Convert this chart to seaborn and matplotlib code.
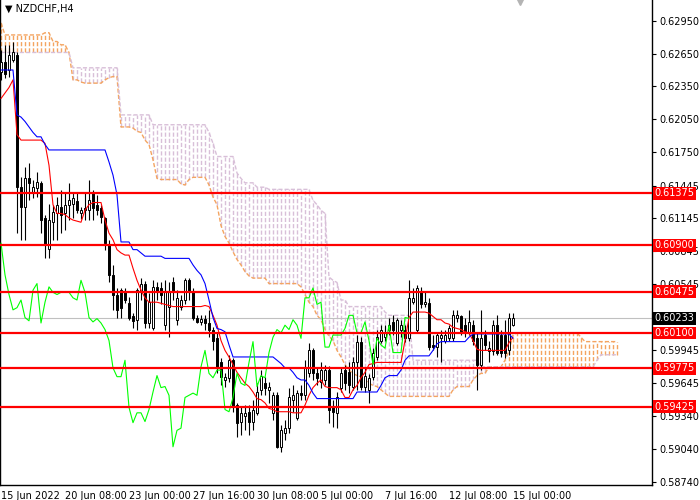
import numpy as np
import seaborn as sns
import matplotlib
matplotlib.use("Agg")
import matplotlib.pyplot as plt
import matplotlib.transforms as mtransforms

symbol = "NZDCHF,H4"
date_labels = ["15 Jun 2022", "20 Jun 08:00", "23 Jun 00:00", "27 Jun 16:00",
               "30 Jun 08:00", "5 Jul 00:00", "7 Jul 16:00", "12 Jul 08:00",
               "15 Jul 00:00"]
price_ticks = [0.62950, 0.62650, 0.62350, 0.62050, 0.61750, 0.61445, 0.61145,
               0.60845, 0.60545, 0.59945, 0.59645, 0.59340, 0.59040, 0.58740]
levels = [0.61375, 0.60900, 0.60475, 0.60100, 0.59775, 0.59425]
last_price = 0.60233

# H4 candles, one per bar
opens = [
    0.6248, 0.6257, 0.6250, 0.6259, 0.6264, 0.6143, 0.6125, 0.6151, 0.6139, 0.6142,
    0.6147, 0.6115, 0.6087, 0.6111, 0.6119, 0.6125, 0.6119, 0.6127, 0.6128, 0.6130,
    0.6119, 0.6124, 0.6122, 0.6138, 0.6127, 0.6124, 0.6115, 0.6090, 0.6063, 0.6045,
    0.6049, 0.6047, 0.6037, 0.6025, 0.6022, 0.6047, 0.6055, 0.6019, 0.6014, 0.6052,
    0.6051, 0.6017, 0.6034, 0.6056, 0.6022, 0.6034, 0.6040, 0.6058, 0.6047, 0.6024,
    0.6020, 0.6023, 0.6019, 0.6013, 0.6005, 0.5983, 0.5967, 0.5969, 0.5985, 0.5944,
    0.5929, 0.5934, 0.5938, 0.5929, 0.5937, 0.5958, 0.5964, 0.5958, 0.5937, 0.5953,
    0.5906, 0.5919, 0.5923, 0.5949, 0.5932, 0.5955, 0.5953, 0.5973, 0.5994, 0.5973,
    0.5965, 0.5967, 0.5976, 0.5942, 0.5937, 0.5960, 0.5976, 0.5974, 0.5961, 0.5983,
    0.6002, 0.5961, 0.5958, 0.5970, 0.5988, 0.6003, 0.6006, 0.6013, 0.6020, 0.6001,
    0.6013, 0.6013, 0.6005, 0.6038, 0.6013, 0.6047, 0.6036, 0.6037, 0.5999, 0.5997,
    0.6005, 0.6003, 0.6005, 0.6005, 0.6024, 0.6025, 0.6017, 0.6011, 0.6017, 0.6005,
    0.5981, 0.6008, 0.5993, 0.5993, 0.6017, 0.6008, 0.6008, 0.5994, 0.6017]
highs = [
    0.6268, 0.6273, 0.6273, 0.6276, 0.6266, 0.6152, 0.6161, 0.6165, 0.6150, 0.6157,
    0.6149, 0.6118, 0.6128, 0.6127, 0.6134, 0.6140, 0.6139, 0.6147, 0.6138, 0.6138,
    0.6125, 0.6138, 0.6150, 0.6140, 0.6136, 0.6127, 0.6116, 0.6095, 0.6072, 0.6051,
    0.6051, 0.6051, 0.6043, 0.6028, 0.6051, 0.6060, 0.6057, 0.6046, 0.6058, 0.6056,
    0.6056, 0.6058, 0.6056, 0.6061, 0.6049, 0.6045, 0.6060, 0.6060, 0.6051, 0.6026,
    0.6026, 0.6026, 0.6031, 0.6015, 0.6010, 0.5987, 0.5973, 0.5990, 0.5987, 0.5946,
    0.5942, 0.5944, 0.5944, 0.5949, 0.5964, 0.5976, 0.5970, 0.5965, 0.5956, 0.5956,
    0.5926, 0.5930, 0.5960, 0.5962, 0.5958, 0.5962, 0.5985, 0.6001, 0.5996, 0.5978,
    0.5983, 0.5981, 0.5980, 0.5949, 0.5956, 0.5978, 0.5981, 0.5983, 0.5988, 0.6008,
    0.6006, 0.5978, 0.5972, 0.5996, 0.6013, 0.6017, 0.6017, 0.6024, 0.6026, 0.6024,
    0.6022, 0.6017, 0.6058, 0.6051, 0.6054, 0.6052, 0.6047, 0.6042, 0.6008, 0.6010,
    0.6013, 0.6013, 0.6017, 0.6031, 0.6031, 0.6026, 0.6024, 0.6031, 0.6022, 0.6011,
    0.6031, 0.6013, 0.6003, 0.6022, 0.6026, 0.6013, 0.6022, 0.6028, 0.6028]
lows = [
    0.6241, 0.6243, 0.6244, 0.6257, 0.6101, 0.6095, 0.6095, 0.6131, 0.6133, 0.6134,
    0.6101, 0.6078, 0.6078, 0.6095, 0.6095, 0.6101, 0.6104, 0.6113, 0.6115, 0.6119,
    0.6114, 0.6113, 0.6113, 0.6113, 0.6118, 0.6110, 0.6086, 0.6056, 0.6031, 0.6024,
    0.6024, 0.6037, 0.6022, 0.6014, 0.6013, 0.6040, 0.6014, 0.6014, 0.6013, 0.6040,
    0.6036, 0.6013, 0.6006, 0.6040, 0.6017, 0.6031, 0.6036, 0.6040, 0.6022, 0.6019,
    0.6017, 0.6013, 0.6006, 0.5994, 0.5973, 0.5962, 0.5961, 0.5965, 0.5938, 0.5915,
    0.5917, 0.5921, 0.5917, 0.5921, 0.5935, 0.5953, 0.5953, 0.5946, 0.5930, 0.5905,
    0.5901, 0.5912, 0.5919, 0.5938, 0.5930, 0.5949, 0.5949, 0.5970, 0.5967, 0.5962,
    0.5960, 0.5962, 0.5928, 0.5924, 0.5923, 0.5956, 0.5958, 0.5955, 0.5958, 0.5958,
    0.5958, 0.5956, 0.5946, 0.5967, 0.5985, 0.6001, 0.6003, 0.6008, 0.6008, 0.5999,
    0.6006, 0.6002, 0.6003, 0.6036, 0.6010, 0.6033, 0.6034, 0.5994, 0.5994, 0.5988,
    0.5983, 0.6001, 0.6003, 0.6003, 0.6020, 0.6008, 0.6006, 0.6008, 0.5999, 0.5958,
    0.5976, 0.5994, 0.5983, 0.5990, 0.5990, 0.5988, 0.5987, 0.5990, 0.6016]
closes = [
    0.6257, 0.6246, 0.6264, 0.6266, 0.6143, 0.6125, 0.6151, 0.6147, 0.6143, 0.6148,
    0.6113, 0.6090, 0.6113, 0.6120, 0.6127, 0.6118, 0.6127, 0.6131, 0.6133, 0.6122,
    0.6122, 0.6122, 0.6131, 0.6124, 0.6122, 0.6116, 0.6092, 0.6063, 0.6045, 0.6031,
    0.6033, 0.6040, 0.6024, 0.6021, 0.6049, 0.6055, 0.6019, 0.6038, 0.6052, 0.6047,
    0.6045, 0.6047, 0.6047, 0.6047, 0.6042, 0.6040, 0.6058, 0.6047, 0.6024, 0.6020,
    0.6023, 0.6019, 0.6013, 0.6003, 0.5978, 0.5970, 0.5970, 0.5985, 0.5942, 0.5928,
    0.5937, 0.5937, 0.5929, 0.5940, 0.5956, 0.5971, 0.5960, 0.5961, 0.5953, 0.5906,
    0.5921, 0.5923, 0.5951, 0.5953, 0.5955, 0.5953, 0.5979, 0.5994, 0.5973, 0.5969,
    0.5976, 0.5976, 0.5940, 0.5938, 0.5951, 0.5973, 0.5964, 0.5962, 0.5983, 0.6002,
    0.5961, 0.5971, 0.5969, 0.5992, 0.6006, 0.6013, 0.6010, 0.6017, 0.6013, 0.6022,
    0.6017, 0.6005, 0.6042, 0.6042, 0.6051, 0.6036, 0.6038, 0.5997, 0.5997, 0.6008,
    0.6008, 0.6008, 0.6014, 0.6026, 0.6026, 0.6010, 0.6010, 0.6020, 0.6003, 0.5981,
    0.6005, 0.5999, 0.5996, 0.6017, 0.5992, 0.5992, 0.5992, 0.6024, 0.60233]

# Ichimoku lines
tenkan = ([0.6224, 0.6229, 0.6234, 0.6241, 0.6191] + [0.6186] * 6 +
          [0.6183, 0.6163, 0.6127, 0.6119, 0.6119, 0.6118, 0.6115, 0.6113,
           0.6112, 0.6111, 0.6122, 0.6127] + [0.6129] * 3 +
          [0.6113, 0.6101, 0.6095, 0.6086, 0.6083] + [0.6081] * 2 +
          [0.6069, 0.6058, 0.6049, 0.6042] + [0.6038] * 3 +
          [0.6037, 0.6036, 0.6035, 0.6034] + [0.6034] * 7 +
          [0.6035, 0.6034, 0.6026, 0.6017, 0.6003, 0.5994, 0.5988, 0.5981,
           0.5974, 0.5969, 0.5964, 0.5961, 0.5956, 0.5950, 0.5949, 0.5946,
           0.5941, 0.5940] + [0.5938] * 4 + [0.5937] * 3 +
          [0.5944, 0.5953, 0.5960, 0.5964, 0.5967, 0.5961] + [0.5960] * 3 +
          [0.5958] + [0.5951] * 2 +
          [0.5958, 0.5962, 0.5969, 0.5974, 0.5981, 0.5982] + [0.5983] * 7 +
          [0.6003, 0.6024] + [0.6029] * 4 + [0.6028, 0.6025] + [0.6022] * 2 +
          [0.6019, 0.6018, 0.6015, 0.6014, 0.6013, 0.6011, 0.6010, 0.6003,
           0.5995] + [0.5994] * 7 + [0.6001, 0.6006])
kijun = ([0.6250] * 4 + [0.6209, 0.6207, 0.6203, 0.6198, 0.6193] +
         [0.6189] * 2 + [0.6182] + [0.6177] * 15 + [0.6166, 0.6154, 0.6136] +
         [0.6093] * 3 + [0.6086] * 2 + [0.6083] + [0.6080] * 5 +
         [0.6078] * 7 +
         [0.6072, 0.6067, 0.6063, 0.6055, 0.6040, 0.6024, 0.6014, 0.6013,
          0.6011, 0.5999] + [0.5988] * 11 + [0.5985, 0.5982] +
         [0.5978] * 2 + [0.5974, 0.5969] + [0.5967] * 2 + [0.5962, 0.5955] +
         [0.5950] * 10 + [0.5956] * 6 + [0.5962, 0.5969] + [0.5971] * 3 +
         [0.5976, 0.5985] + [0.5989] * 6 + [0.5994, 0.6000] + [0.6002] * 7 +
         [0.6006] + [0.6009] * 10 + [0.6005])
span_a = ([0.6293] + [0.6282] * 10 + [0.6284] * 2 + [0.6276] * 2 +
          [0.6273] * 2 + [0.6266] + [0.6241] * 2 + [0.6239] + [0.6238] * 5 +
          [0.6241, 0.6243] + [0.6244] * 2 + [0.6198] * 3 +
          [0.6197, 0.6194, 0.6193, 0.6186, 0.6182, 0.6168, 0.6151] +
          [0.6150] * 5 + [0.6146, 0.6145, 0.6150] + [0.6152] * 4 +
          [0.6145, 0.6134, 0.6127, 0.6108, 0.6098, 0.6092, 0.6084, 0.6077,
           0.6072, 0.6066, 0.6062] + [0.6060] * 4 + [0.6055] * 8 +
          [0.6052, 0.6045, 0.6038, 0.6034, 0.6026, 0.6022, 0.6013, 0.6007,
           0.6003, 0.5994, 0.5988, 0.5981, 0.5976, 0.5973, 0.5971, 0.5970,
           0.5967, 0.5964, 0.5962, 0.5961, 0.5958, 0.5955] + [0.5952] * 16 +
          [0.5958] + [0.5961] * 4 + [0.5967, 0.5971] + [0.5973] * 2 +
          [0.5979] * 4 + [0.5985, 0.5994, 0.6008] + [0.6010] * 16 +
          [0.6006] + [0.6002] * 9)
span_b = ([0.6266] * 18 + [0.6252] * 12 + [0.6209] * 8 + [0.6200] * 14 +
          [0.6193, 0.6183] + [0.6171] * 5 + [0.6156, 0.6151] + [0.6147] * 3 +
          [0.6143] * 3 + [0.6141] * 11 + [0.6131, 0.6127, 0.6122, 0.6119] +
          [0.6061, 0.6058, 0.6056] + [0.6040] * 2 + [0.6034] * 9 + [0.6029] +
          [0.6026] * 6 + [0.5985] * 17 + [0.5979] * 29 + [0.5985] +
          [0.5990] * 5)

sandy = "#F4A460"
thistle = "#D8BFD8"

sns.set_style("white")
plt.rcParams["font.family"] = ["DejaVu Sans"]
plt.rcParams["lines.scale_dashes"] = False

fig = plt.figure(figsize=(7, 5), dpi=100)
ax = fig.add_axes([0, 15 / 500, 652 / 700, 485 / 500])

# cloud hatching: one dashed stroke per bar between the two spans
a = np.array(span_a)
b = np.array(span_b)
xc = np.arange(len(a))
hatch_cols = [sandy if a[k] >= b[k] else thistle for k in range(len(a))]
ax.vlines(xc, np.minimum(a, b), np.maximum(a, b), colors=hatch_cols,
          linestyles=(0, (3, 1.5)), linewidth=1.0, zorder=1)
sns.lineplot(x=xc, y=a, ax=ax, color=sandy, linewidth=1.0,
             linestyle=(0, (3, 1.5)), zorder=1.2)
sns.lineplot(x=xc, y=b, ax=ax, color=thistle, linewidth=1.0,
             linestyle=(0, (3, 1.5)), zorder=1.2)

ax.axhline(last_price, color="#C0C0C0", linewidth=0.8, zorder=1.5)

# candles
o = np.array(opens)
h = np.array(highs)
l = np.array(lows)
c = np.array(closes)
xb = np.arange(len(o))
ax.vlines(xb, l, h, color="black", linewidth=0.8, zorder=3)
up = c >= o
body = np.maximum(np.abs(c - o), 0.00002)
ax.bar(xb, body, bottom=np.minimum(o, c), width=0.55,
       color=np.where(up, "white", "black"), edgecolor="black",
       linewidth=0.7, zorder=3.2)

# tenkan, kijun, chikou
sns.lineplot(x=np.arange(len(tenkan)), y=tenkan, ax=ax, color="#FF0000",
             linewidth=0.8, zorder=4)
sns.lineplot(x=np.arange(len(kijun)), y=kijun, ax=ax, color="#0000FF",
             linewidth=0.8, zorder=4)
chikou = closes[26:]
sns.lineplot(x=np.arange(len(chikou)), y=chikou, ax=ax, color="#00FF00",
             linewidth=0.8, zorder=4)

# horizontal levels
for lv in levels:
    ax.axhline(lv, color="#FF0000", linewidth=1.6, zorder=5)

ax.set_xlim(-0.25, 162.75)
ax.set_ylim(0.58711, 0.63139)

ax.yaxis.tick_right()
ax.set_yticks(price_ticks)
ax.set_yticklabels([f"{p:.5f}" for p in price_ticks])
ax.set_xticks(np.arange(len(date_labels)) * 16)
ax.set_xticklabels(date_labels)
for t in ax.get_xticklabels():
    t.set_horizontalalignment("left")
ax.tick_params(axis="both", direction="out", length=3, width=0.8,
               labelsize=7, colors="black", pad=1.5)
ax.tick_params(axis="y", pad=2)
for side in ["left", "bottom", "right"]:
    ax.spines[side].set_visible(True)
    ax.spines[side].set_color("black")
    ax.spines[side].set_linewidth(1)
ax.spines["top"].set_visible(False)

trans = mtransforms.blended_transform_factory(ax.transAxes, ax.transData)
for lv in levels:
    ax.text(1.004, lv, f"{lv:.5f}", transform=trans, color="white",
            fontsize=7, va="center", ha="left", clip_on=False, zorder=10,
            bbox=dict(facecolor="#FF0000", edgecolor="none", pad=1.0))
ax.text(1.004, last_price, f"{last_price:.5f}", transform=trans,
        color="white", fontsize=7, va="center", ha="left", clip_on=False,
        zorder=10, bbox=dict(facecolor="black", edgecolor="none", pad=1.0))

ax.text(0.007, 0.982, "\u25bc " + symbol, transform=ax.transAxes,
        fontsize=7, va="center", ha="left", color="black", zorder=10)
ax.plot([129.75], [0.63139], marker="v", color="#B4B4B4", markersize=7,
        clip_on=False, zorder=10)

fig.savefig("out.png", dpi=100)
